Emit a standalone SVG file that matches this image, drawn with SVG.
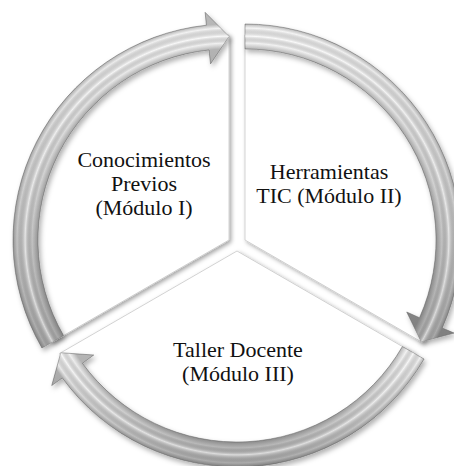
<svg xmlns="http://www.w3.org/2000/svg" width="454" height="466" viewBox="0 0 454 466">
  <style>
    .wedge { fill: #ffffff; stroke: #c8c8c8; stroke-width: 0.8; filter: url(#wshadow); }
    .arrow { stroke: #8c8c8c; stroke-width: 0.7; stroke-linejoin: round; }
    .label { font-family: "Liberation Serif", "Times New Roman", serif; font-size: 22px; fill: #111111; text-anchor: middle; }
  </style>
  <defs>
    <filter id="wshadow" x="-10%" y="-10%" width="125%" height="125%">
      <feDropShadow dx="2" dy="2" stdDeviation="2" flood-color="#000000" flood-opacity="0.35"/>
    </filter>
    <filter id="ashadow" x="-10%" y="-10%" width="125%" height="125%">
      <feDropShadow dx="2" dy="3" stdDeviation="2.5" flood-color="#000000" flood-opacity="0.3"/>
    </filter>
    <linearGradient id="shade" x1="0" y1="0" x2="0" y2="1">
      <stop offset="0" stop-color="#f6f6f6"/>
      <stop offset="0.5" stop-color="#d2d2d2"/>
      <stop offset="1" stop-color="#a8a8a8"/>
    </linearGradient>
    <radialGradient id="tubeL" gradientUnits="userSpaceOnUse" cx="229" cy="240" r="229">
      <stop offset="0.76" stop-color="#000" stop-opacity="0.25"/>
      <stop offset="0.834" stop-color="#000" stop-opacity="0.25"/>
      <stop offset="0.86" stop-color="#000" stop-opacity="0"/>
      <stop offset="0.89" stop-color="#fff" stop-opacity="0.55"/>
      <stop offset="0.925" stop-color="#000" stop-opacity="0"/>
      <stop offset="0.943" stop-color="#000" stop-opacity="0.25"/>
      <stop offset="1" stop-color="#000" stop-opacity="0.25"/>
    </radialGradient>
    <radialGradient id="tubeR" href="#tubeL" cx="245" cy="240" r="229"/>
    <radialGradient id="tubeB" href="#tubeL" cx="237" cy="251" r="229"/>
  </defs>

  <g id="node-conocimientos">
    <path class="wedge" d="M229,240 L229,35 A205,205 0 0 0 51.5,342.5 Z"/>
    <text class="label" x="144" y="167">Conocimientos</text>
    <text class="label" x="144" y="191">Previos</text>
    <text class="label" x="144" y="215">(Módulo I)</text>
  </g>

  <g id="node-herramientas">
    <path class="wedge" d="M245,240 L245,35 A205,205 0 0 1 422.5,342.5 Z"/>
    <text class="label" x="329" y="179">Herramientas</text>
    <text class="label" x="329" y="203">TIC (Módulo II)</text>
  </g>

  <g id="node-taller">
    <path class="wedge" d="M237,251 L414.5,353.5 A205,205 0 0 1 59.5,353.5 Z"/>
    <text class="label" x="238" y="357">Taller Docente</text>
    <text class="label" x="238" y="381">(Módulo III)</text>
  </g>

  <g id="connectors" filter="url(#ashadow)">
    <g id="arrow-1-2">
      <path class="arrow" fill="url(#shade)" d="M41.9,348 A216,216 0 0 1 206.4,25.2 L205.1,12.3 L229,36.5 L210.5,64 L209,50 A191,191 0 0 0 63.6,335.5 Z"/>
      <path fill="url(#tubeL)" d="M41.9,348 A216,216 0 0 1 206.4,25.2 L205.1,12.3 L229,36.5 L210.5,64 L209,50 A191,191 0 0 0 63.6,335.5 Z"/>
    </g>
    <g id="arrow-2-3">
      <path class="arrow" fill="url(#shade)" d="M245,24 A216,216 0 0 1 442.3,327.9 L454.2,333.1 L421.2,341.75 L406.7,312 L419.5,317.7 A191,191 0 0 0 245,49 Z"/>
      <path fill="url(#tubeR)" d="M245,24 A216,216 0 0 1 442.3,327.9 L454.2,333.1 L421.2,341.75 L406.7,312 L419.5,317.7 A191,191 0 0 0 245,49 Z"/>
    </g>
    <g id="arrow-3-1">
      <path class="arrow" fill="url(#shade)" d="M424.1,359 A216,216 0 0 1 62.3,378 L51.7,385.6 L60.8,352.75 L93.8,355 L82.5,363.3 A191,191 0 0 0 402.4,346.5 Z"/>
      <path fill="url(#tubeB)" d="M424.1,359 A216,216 0 0 1 62.3,378 L51.7,385.6 L60.8,352.75 L93.8,355 L82.5,363.3 A191,191 0 0 0 402.4,346.5 Z"/>
    </g>
  </g>
</svg>
